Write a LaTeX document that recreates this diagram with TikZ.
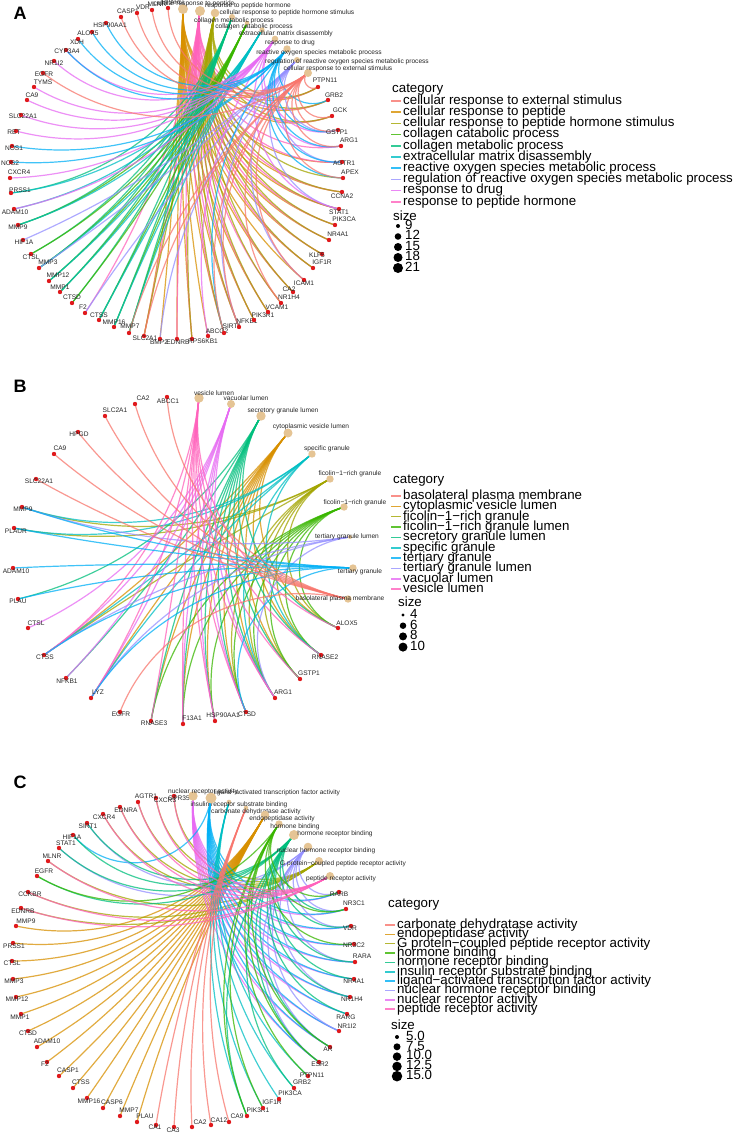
\documentclass[tikz,border=0pt]{standalone}
\usepackage{fontspec}
\setmainfont{Liberation Sans}
\usetikzlibrary{calc}
\pgfdeclarelayer{bg}
\pgfdeclarelayer{edges}
\pgfsetlayers{bg,edges,main}
\definecolor{k1}{HTML}{F8766D}
\definecolor{k2}{HTML}{D89000}
\definecolor{k3}{HTML}{A3A500}
\definecolor{k4}{HTML}{39B600}
\definecolor{k5}{HTML}{00BF7D}
\definecolor{k6}{HTML}{00BFC4}
\definecolor{k7}{HTML}{00B0F6}
\definecolor{k8}{HTML}{9590FF}
\definecolor{k9}{HTML}{E76BF3}
\definecolor{k10}{HTML}{FF62BC}
\definecolor{gred}{HTML}{E0191C}
\definecolor{ctan}{HTML}{E5C494}
\tikzset{
 gdot/.style={circle, fill=gred, inner sep=0pt, minimum size=4.4pt},
 cdot/.style={circle, fill=ctan, inner sep=0pt},
 nlab/.style={font=\fontsize{6.6}{7}\selectfont, inner sep=0pt, text height=4.8pt, text depth=1.4pt, text=black!85},
 edg/.style={line width=1.2pt, draw opacity=0.75},
 e1/.style={draw=k1}, e2/.style={draw=k2}, e3/.style={draw=k3}, e4/.style={draw=k4}, e5/.style={draw=k5},
 e6/.style={draw=k6}, e7/.style={draw=k7}, e8/.style={draw=k8}, e9/.style={draw=k9}, e10/.style={draw=k10},
 legt/.style={font=\fontsize{13.3}{14}\selectfont, inner sep=0pt, anchor=west, text height=9.5pt, text depth=2.8pt},
 keyl/.style={line width=1.5pt, draw opacity=0.8},
 plet/.style={font=\fontsize{18}{20}\bfseries\selectfont, inner sep=0pt},
 sdot/.style={circle, fill=black, inner sep=0pt},
}
\newcommand\gn[4]{\node[gdot] (#1) at (#2) {};\node[nlab] (#1l) at (#3) {#4};}
\newcommand\cn[5]{\node[cdot, minimum size=#3] (#1) at (#2) {};\node[nlab] (#1l) at (#4) {#5};}
\newcommand\garc[4]{\draw[edg,#1] let \p1=(#2), \p2=(#3),
 \n1={min(veclen(\x2-\x1,\y2-\y1)/(2*\RR),0.995)}, \n2={sqrt(1-(\n1)*(\n1))},
 \n3={4/3*\RR*(\n1)/(\n2)*(1+(\n2)-(\n1))/(1+(\n2)+(\n1))} in
 (#2.center) .. controls ($(#2)!\n3*1pt!(#4)$) and ($(#3)!\n3*1pt!(#4)$) .. (#3.center);}
\newcommand\fan[4]{\foreach \g in {#4} {\garc{#1}{#2}{#3\g}{ctr#3}}}
\begin{document}
\begin{tikzpicture}[x=1pt,y=-1pt]
\begin{pgfonlayer}{bg}
\fill[white] (0,0) rectangle (735,1134);
\end{pgfonlayer}
\useasboundingbox (0,0) rectangle (735,1134);
% ================= PANEL A =================
\node[plet] (pA) at (20,13) {A};
\coordinate (ctra) at (177,173);
\gn{aCASP1}{121,17}{128,12}{CASP1}
\gn{aVDR}{137,13}{143,8}{VDR}
\gn{aMLNR}{152,10}{157,5}{MLNR}
\gn{aPPARG}{168,8}{173,3}{PPARG}
\gn{aHSP}{106,23}{110,26}{HSP90AA1}
\gn{aALOX5}{92,32}{88,34}{ALOX5}
\gn{aXDH}{78,39}{77,43}{XDH}
\gn{aCYP}{66,50}{67,52}{CYP3A4}
\gn{aNR1I2}{54,61}{54,64}{NR1I2}
\gn{aEGFR}{43,73}{44,75}{EGFR}
\gn{aTYMS}{34,87}{43,83}{TYMS}
\gn{aCA9}{27,100}{32,96}{CA9}
\gn{aSLC22}{21,115}{23,117}{SLC22A1}
\gn{aRET}{16,131}{14,133}{RET}
\gn{aNOS1}{12,146}{14,149}{NOS1}
\gn{aNOS2}{11,162}{10,164}{NOS2}
\gn{aCXCR4}{10,178}{19,173}{CXCR4}
\gn{aPRSS1}{11,193}{20,191}{PRSS1}
\gn{aADAM10}{14,209}{15,213}{ADAM10}
\gn{aMMP9}{18,225}{18,228}{MMP9}
\gn{aHIF1A}{23,240}{24,243}{HIF1A}
\gn{aCTSL}{31,254}{31,258}{CTSL}
\gn{aMMP3}{39,268}{48,263}{MMP3}
\gn{aMMP12}{49,281}{58,276}{MMP12}
\gn{aMMP1}{60,292}{60,288}{MMP1}
\gn{aCTSD}{72,303}{72,298}{CTSD}
\gn{aF2}{85,313}{83,308}{F2}
\gn{aCTSS}{99,320}{99,316}{CTSS}
\gn{aMMP16}{114,327}{114,323}{MMP16}
\gn{aMMP7}{129,333}{130,327}{MMP7}
\gn{aSLC2A1}{144,336}{145,339}{SLC2A1}
\gn{aBMP2}{160,339}{159,343}{BMP2}
\gn{aEDNRB}{177,339}{178,343}{EDNRB}
\gn{aRPS}{192,339}{203,342}{RPS6KB1}
\gn{aABCG2}{208,336}{217,332}{ABCG2}
\gn{aSIRT1}{224,333}{232,327}{SIRT1}
\gn{aNFKB1}{239,327}{247,322}{NFKB1}
\gn{aPIK3R1}{254,320}{263,316}{PIK3R1}
\gn{aVCAM1}{268,312}{277,308}{VCAM1}
\gn{aNR1H4}{281,303}{289,298}{NR1H4}
\gn{aCA2}{293,292}{289,290}{CA2}
\gn{aICAM1}{304,280}{304,284}{ICAM1}
\gn{aIGF1R}{313,268}{322,263}{IGF1R}
\gn{aKLF5}{322,254}{317,256}{KLF5}
\gn{aNR4A1}{329,240}{338,235}{NR4A1}
\gn{aPIK3CA}{335,225}{344,220}{PIK3CA}
\gn{aSTAT1}{339,209}{339,213}{STAT1}
\gn{aCCNA2}{342,192}{342,197}{CCNA2}
\gn{aAPEX}{343,178}{350,173}{APEX}
\gn{aAGTR1}{342,162}{344,164}{AGTR1}
\gn{aARG1}{341,146}{349,141}{ARG1}
\gn{aGSTP1}{338,130}{337,133}{GSTP1}
\gn{aGCK}{332,116}{340,111}{GCK}
\gn{aGRB2}{328,100}{334,96}{GRB2}
\gn{aPTPN11}{318,87}{325,81}{PTPN11}
\cn{ac1}{308,73}{8pt}{338,69}{cellular response to external stimulus}
\cn{ac2}{183,9}{10pt}{194,4}{cellular response to peptide}
\cn{ac3}{215,13}{8.6pt}{287,13}{cellular response to peptide hormone stimulus}
\cn{ac4}{247,23}{4.6pt}{254,27}{collagen catabolic process}
\cn{ac5}{232,17}{6pt}{234,21}{collagen metabolic process}
\cn{ac6}{262,30}{5.4pt}{286,34}{extracellular matrix disassembly}
\cn{ac7}{287,49}{7.4pt}{319,53}{reactive oxygen species metabolic process}
\cn{ac8}{297,60}{6pt}{347,62}{regulation of reactive oxygen species metabolic process}
\cn{ac9}{275,39}{6.6pt}{290,43}{response to drug}
\cn{ac10}{200,11}{10pt}{248,6}{response to peptide hormone}
\def\RR{166}
\begin{pgfonlayer}{edges}
\fan{e2}{ac2}{a}{PTPN11,GRB2,GCK,AGTR1,CCNA2,STAT1,PIK3CA,NR4A1,KLF5,IGF1R,ICAM1,CA2,VCAM1,PIK3R1,NFKB1,SIRT1,RPS,EDNRB,SLC2A1,ABCG2,BMP2}
\fan{e10}{ac10}{a}{PTPN11,GRB2,GCK,ARG1,AGTR1,CCNA2,STAT1,PIK3CA,NR4A1,KLF5,IGF1R,CA2,NR1H4,VCAM1,PIK3R1,NFKB1,SIRT1,RPS,EDNRB,SLC2A1,F2}
\fan{e3}{ac3}{a}{PTPN11,GRB2,GCK,APEX,CCNA2,STAT1,PIK3CA,NR4A1,IGF1R,CA2,VCAM1,PIK3R1,NFKB1,SIRT1,RPS,SLC2A1,KLF5,NR1H4}
\fan{e5}{ac5}{a}{MMP9,CTSL,MMP3,MMP12,MMP1,CTSS,MMP16,MMP7,CTSD,PRSS1}
\fan{e4}{ac4}{a}{CTSD,MMP9,MMP3,MMP12,MMP1,CTSL,MMP16,MMP7,CTSS}
\fan{e6}{ac6}{a}{PRSS1,MMP9,ADAM10,CTSS,MMP12,MMP1,MMP3,MMP16,MMP7}
\fan{e8}{ac8}{a}{HIF1A,F2,BMP2,ICAM1,STAT1,AGTR1,NFKB1,MMP3,GSTP1}
\fan{e9}{ac9}{a}{CYP,NR1I2,TYMS,CA9,SLC22,RET,CXCR4,ADAM10,ABCG2,ARG1,STAT1,GSTP1}
\fan{e7}{ac7}{a}{HSP,ALOX5,XDH,NOS1,NOS2,AGTR1,GSTP1,GRB2,APEX,ARG1,SIRT1,CYP}
\fan{e1}{ac1}{a}{CASP1,VDR,MLNR,PPARG,EGFR,MMP7,SLC2A1,SIRT1,NFKB1,NR1H4,GSTP1,PTPN11,ARG1,APEX,GCK,ICAM1}
\end{pgfonlayer}
% legend A
\node[legt] (Acat) at (392,89) {category};
\foreach [count=\i from 0] \c/\t in {k1/cellular response to external stimulus,k2/cellular response to peptide,k3/cellular response to peptide hormone stimulus,k4/collagen catabolic process,k5/collagen metabolic process,k6/extracellular matrix disassembly,k7/reactive oxygen species metabolic process,k8/regulation of reactive oxygen species metabolic process,k9/response to drug,k10/response to peptide hormone}
 {\node[legt] (Aleg\i) at (403,{101+11.2*\i}) {\t};
  \draw[keyl,\c] ($(Aleg\i.west)+(-12,0)$) -- ($(Aleg\i.west)+(-2,0)$);}
\node[legt] (Asize) at (393,217) {size};
\foreach [count=\i from 0] \d/\t in {4/9,6.6/12,8/15,9/18,10/21}
 {\node[sdot, minimum size=\d pt] (Asd\i) at (398,{226+10.5*\i}) {};
  \node[legt] (Ast\i) at (405,{226+10.5*\i}) {\t};}
% ================= PANEL B =================
\node[plet] (pB) at (20,386) {B};
\coordinate (ctrb) at (180,560);
\gn{bABCC1}{167,397}{168,402}{ABCC1}
\gn{bCA2}{135,404}{143,399}{CA2}
\gn{bSLC2A1}{105,416}{115,411}{SLC2A1}
\gn{bHPGD}{78,432}{79,435}{HPGD}
\gn{bCA9}{54,454}{60,449}{CA9}
\gn{bSLC22}{36,479}{39,482}{SLC22A1}
\gn{bMMP9}{22,507}{23,510}{MMP9}
\gn{bPLAUR}{14,528}{16,532}{PLAUR}
\gn{bADAM10}{13,568}{16,572}{ADAM10}
\gn{bPLAU}{18,599}{18,602}{PLAU}
\gn{bCTSL}{28,628}{36,624}{CTSL}
\gn{bCTSS}{44,655}{45,658}{CTSS}
\gn{bNFKB1}{66,678}{67,682}{NFKB1}
\gn{bLYZ}{91,698}{98,693}{LYZ}
\gn{bEGFR}{120,712}{121,715}{EGFR}
\gn{bRNASE3}{151,721}{154,724}{RNASE3}
\gn{bF13A1}{183,724}{192,719}{F13A1}
\gn{bHSP}{215,721}{223,716}{HSP90AA1}
\gn{bCTSD}{246,712}{247,715}{CTSD}
\gn{bARG1}{275,698}{283,693}{ARG1}
\gn{bGSTP1}{300,679}{309,674}{GSTP1}
\gn{bRNASE2}{321,655}{325,658}{RNASE2}
\gn{bALOX5}{338,628}{347,624}{ALOX5}
\cn{bk1}{348,599}{7.4pt}{340,599}{basolateral plasma membrane}
\cn{bk2}{288,433}{9pt}{311,427}{cytoplasmic vesicle lumen}
\cn{bk3}{330,479}{7.4pt}{350,474}{ficolin−1−rich granule}
\cn{bk4}{344,507}{7.4pt}{355,503}{ficolin−1−rich granule}
\cn{bk5}{261,416}{9.4pt}{283,411}{secretory granule lumen}
\cn{bk6}{312,454}{7.4pt}{327,449}{specific granule}
\cn{bk7}{353,568}{7.4pt}{360,572}{tertiary granule}
\cn{bk8}{350,537}{4pt}{347,537}{tertiary granule lumen}
\cn{bk9}{231,404}{8pt}{246,399}{vacuolar lumen}
\cn{bk10}{199,398}{9.4pt}{214,394}{vesicle lumen}
\def\RR{166}
\begin{pgfonlayer}{edges}
\fan{e2}{bk2}{b}{RNASE3,F13A1,RNASE2,HSP,CTSD,ARG1,GSTP1,ALOX5,LYZ,CTSS}
\fan{e3}{bk3}{b}{MMP9,PLAUR,CTSS,CTSD,ARG1,GSTP1,ALOX5,RNASE2}
\fan{e4}{bk4}{b}{HSP,GSTP1,ALOX5,CTSD,ARG1,F13A1,RNASE3,RNASE2}
\fan{e5}{bk5}{b}{NFKB1,HSP,ARG1,ALOX5,GSTP1,CTSD,F13A1,RNASE3,RNASE2,PLAU}
\fan{e6}{bk6}{b}{PLAUR,MMP9,LYZ,ARG1,CTSS,RNASE2}
\fan{e8}{bk8}{b}{MMP9,LYZ,ARG1,CTSS}
\fan{e9}{bk9}{b}{CTSL,CTSS,CTSD,LYZ,HSP,F13A1,ARG1,NFKB1}
\fan{e10}{bk10}{b}{RNASE3,F13A1,HSP,CTSD,ARG1,GSTP1,ALOX5,RNASE2,LYZ,CTSS}
\fan{e7}{bk7}{b}{MMP9,ADAM10,PLAU,CTSS,LYZ,CTSD,PLAUR}
\fan{e1}{bk1}{b}{ABCC1,CA2,SLC2A1,HPGD,CA9,SLC22,EGFR}
\end{pgfonlayer}
% legend B
\node[legt] (Bcat) at (393,480) {category};
\foreach [count=\i from 0] \c/\t in {k1/basolateral plasma membrane,k2/cytoplasmic vesicle lumen,k3/ficolin−1−rich granule,k4/ficolin−1−rich granule lumen,k5/secretory granule lumen,k6/specific granule,k7/tertiary granule,k8/tertiary granule lumen,k9/vacuolar lumen,k10/vesicle lumen}
 {\node[legt] (Bleg\i) at (403,{496+10.35*\i}) {\t};
  \draw[keyl,\c] ($(Bleg\i.west)+(-12,0)$) -- ($(Bleg\i.west)+(-2,0)$);}
\node[legt] (Bsize) at (398,603) {size};
\foreach [count=\i from 0] \d/\t in {3.4/4,6.5/6,8/8,9/10}
 {\node[sdot, minimum size=\d pt] (Bsd\i) at (403,{615+10.7*\i}) {};
  \node[legt] (Bst\i) at (410,{615+10.7*\i}) {\t};}
% ================= PANEL C =================
\node[plet] (pC) at (20,782) {C};
\coordinate (ctrc) at (183,961);
\gn{cGPR35}{174,796}{179,799}{GPR35}
\gn{cCXCR3}{156,798}{165,801}{CXCR3}
\gn{cAGTR1}{138,802}{146,797}{AGTR1}
\gn{cEDNRA}{120,807}{126,811}{EDNRA}
\gn{cCXCR4}{103,814}{104,818}{CXCR4}
\gn{cSIRT1}{87,823}{88,827}{SIRT1}
\gn{cHIF1A}{73,835}{72,838}{HIF1A}
\gn{cSTAT1}{59,848}{66,844}{STAT1}
\gn{cMLNR}{48,861}{52,857}{MLNR}
\gn{cEGFR}{37,876}{44,872}{EGFR}
\gn{cCCKBR}{28,892}{30,895}{CCKBR}
\gn{cEDNRB}{21,908}{23,912}{EDNRB}
\gn{cMMP9}{16,926}{26,922}{MMP9}
\gn{cPRSS1}{13,943}{14,947}{PRSS1}
\gn{cCTSL}{12,961}{12,964}{CTSL}
\gn{cMMP3}{13,979}{14,982}{MMP3}
\gn{cMMP12}{16,997}{17,1000}{MMP12}
\gn{cMMP1}{21,1014}{20,1018}{MMP1}
\gn{cCTSD}{28,1031}{28,1034}{CTSD}
\gn{cADAM10}{37,1047}{47,1042}{ADAM10}
\gn{cF2}{47,1062}{45,1065}{F2}
\gn{cCASP1}{59,1076}{68,1071}{CASP1}
\gn{cCTSS}{73,1088}{81,1083}{CTSS}
\gn{cMMP16}{87,1098}{89,1102}{MMP16}
\gn{cCASP6}{103,1108}{112,1103}{CASP6}
\gn{cMMP7}{120,1116}{129,1111}{MMP7}
\gn{cPLAU}{137,1122}{145,1117}{PLAU}
\gn{cCA1}{156,1125}{155,1128}{CA1}
\gn{cCA3}{174,1127}{173,1131}{CA3}
\gn{cCA2}{192,1127}{200,1123}{CA2}
\gn{cCA12}{211,1125}{219,1121}{CA12}
\gn{cCA9}{229,1122}{237,1117}{CA9}
\gn{cPIK3R1}{247,1116}{258,1111}{PIK3R1}
\gn{cIGF1R}{263,1108}{272,1103}{IGF1R}
\gn{cPIK3CA}{279,1099}{290,1094}{PIK3CA}
\gn{cGRB2}{294,1088}{302,1083}{GRB2}
\gn{cPTPN11}{308,1076}{312,1076}{PTPN11}
\gn{cESR2}{319,1062}{320,1065}{ESR2}
\gn{cAR}{330,1047}{328,1050}{AR}
\gn{cNR1I2}{339,1031}{347,1027}{NR1I2}
\gn{cRARG}{347,1014}{346,1018}{RARG}
\gn{cNR1H4}{350,997}{352,1000}{NR1H4}
\gn{cNR4A1}{354,979}{354,982}{NR4A1}
\gn{cRARA}{355,962}{362,957}{RARA}
\gn{cNR3C2}{354,944}{354,946}{NR3C2}
\gn{cVDR}{351,926}{350,929}{VDR}
\gn{cNR3C1}{346,909}{354,904}{NR3C1}
\gn{cRARB}{339,892}{339,895}{RARB}
\cn{ck1}{246,808}{4.6pt}{256,812}{carbonate dehydratase activity}
\cn{ck2}{265,815}{8.6pt}{282,819}{endopeptidase activity}
\cn{ck3}{319,861}{8pt}{343,864}{G protein−coupled peptide receptor activity}
\cn{ck4}{279,824}{7.4pt}{295,827}{hormone binding}
\cn{ck5}{294,835}{10pt}{335,834}{hormone receptor binding}
\cn{ck6}{229,802}{4.6pt}{239,805}{insulin receptor substrate binding}
\cn{ck7}{211,798}{11pt}{277,793}{ligand−activated transcription factor activity}
\cn{ck8}{308,847}{8.6pt}{326,851}{nuclear hormone receptor binding}
\cn{ck9}{193,796}{9.4pt}{203,792}{nuclear receptor activity}
\cn{ck10}{330,876}{8pt}{341,879}{peptide receptor activity}
\def\RR{168}
\begin{pgfonlayer}{edges}
\fan{e2}{ck2}{c}{MMP9,PRSS1,CTSL,MMP3,MMP12,MMP1,CTSD,ADAM10,F2,CASP1,CTSS,MMP16,CASP6,MMP7,PLAU}
\fan{e3}{ck3}{c}{AGTR1,CXCR3,GPR35,EDNRA,CXCR4,MLNR,CCKBR,EDNRB}
\fan{e9}{ck9}{c}{RARB,NR3C1,VDR,NR3C2,RARA,NR4A1,NR1H4,RARG,NR1I2,AR,ESR2}
\fan{e7}{ck7}{c}{RARB,NR3C1,VDR,NR3C2,RARA,NR4A1,NR1H4,RARG,NR1I2,AR,ESR2,HIF1A}
\fan{e6}{ck6}{c}{PIK3R1,PIK3CA,IGF1R,GRB2,PTPN11}
\fan{e8}{ck8}{c}{SIRT1,STAT1,NR3C1,VDR,RARA,NR1H4,RARB,ESR2,AR,NR1I2}
\fan{e5}{ck5}{c}{HIF1A,STAT1,SIRT1,EGFR,NR3C1,VDR,RARA,NR4A1,NR1H4,ESR2,AR,PIK3R1,GRB2,RARG}
\fan{e4}{ck4}{c}{EGFR,NR3C1,AR,ESR2,PIK3R1,IGF1R,RARB,NR3C2,PTPN11}
\fan{e10}{ck10}{c}{AGTR1,CXCR3,GPR35,EDNRA,CXCR4,MLNR,CCKBR,EDNRB}
\fan{e1}{ck1}{c}{CA1,CA3,CA2,CA12,CA9}
\end{pgfonlayer}
% legend C
\node[legt] (Ccat) at (388,904) {category};
\foreach [count=\i from 0] \c/\t in {k1/carbonate dehydratase activity,k2/endopeptidase activity,k3/G protein−coupled peptide receptor activity,k4/hormone binding,k5/hormone receptor binding,k6/insulin receptor substrate binding,k7/ligand−activated transcription factor activity,k8/nuclear hormone receptor binding,k9/nuclear receptor activity,k10/peptide receptor activity}
 {\node[legt] (Cleg\i) at (397,{925+9.35*\i}) {\t};
  \draw[keyl,\c] ($(Cleg\i.west)+(-12,0)$) -- ($(Cleg\i.west)+(-2,0)$);}
\node[legt] (Csize) at (391,1026) {size};
\foreach [count=\i from 0] \d/\t in {4/5.0,7/7.5,8.5/10.0,9.5/12.5,10.5/15.0}
 {\node[sdot, minimum size=\d pt] (Csd\i) at (397,{1037+9.8*\i}) {};
  \node[legt] (Cst\i) at (406,{1037+9.8*\i}) {\t};}
\end{tikzpicture}
\end{document}
